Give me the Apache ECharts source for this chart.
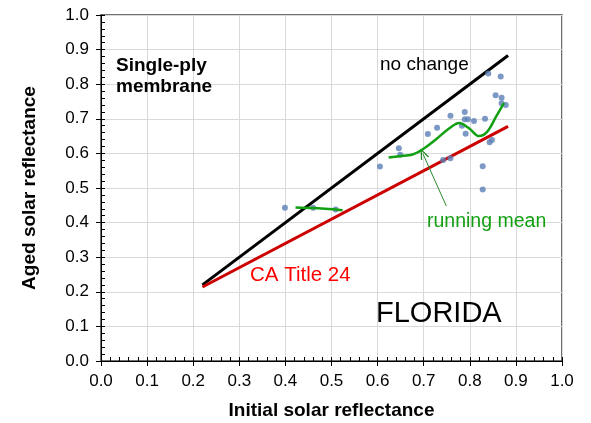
<!DOCTYPE html>
<html>
<head>
<meta charset="utf-8">
<script src="https://cdn.jsdelivr.net/npm/echarts@6/dist/echarts.min.js"></script>
<style>
html,body{margin:0;padding:0;background:#fff;}
#c{width:591px;height:423px;}
</style>
</head>
<body>
<div id="c"></div>
<script>
// ---- data ----
var tickLabels = ['0.0','0.1','0.2','0.3','0.4','0.5','0.6','0.7','0.8','0.9','1.0'];
var samples = [
  [0.399,0.443],[0.460,0.443],[0.509,0.438],[0.605,0.562],[0.646,0.615],[0.649,0.596],
  [0.709,0.656],[0.729,0.674],[0.742,0.581],[0.758,0.586],[0.758,0.709],[0.783,0.680],
  [0.789,0.720],[0.789,0.699],[0.796,0.699],[0.791,0.657],[0.809,0.694],[0.828,0.563],
  [0.828,0.496],[0.833,0.700],[0.840,0.831],[0.843,0.632],[0.848,0.639],[0.856,0.768],
  [0.867,0.822],[0.869,0.761],[0.869,0.745],[0.878,0.740]
];
var noChange = [[0.22,0.22],[0.883,0.883]];
var caTitle24 = [[0.22,0.214],[0.883,0.678]];
var meanLow = [[0.422,0.444],[0.46,0.442],[0.524,0.436]];
var meanHigh = [
  [0.624,0.588],[0.647,0.592],[0.676,0.597],[0.698,0.612],[0.727,0.641],[0.755,0.672],
  [0.777,0.688],[0.799,0.672],[0.820,0.650],[0.838,0.663],[0.857,0.706],[0.874,0.745]
];
var arrowLine = [[0.749,0.448],[0.698,0.600]];

var FONT = "'Liberation Sans', Arial, sans-serif";
var chart = echarts.init(document.getElementById('c'), null, {renderer:'canvas'});

function baseAxis(pos, name, gap) {
  return {
    type:'value', min:0, max:1, interval:0.1, position:pos,
    name:name, nameLocation:'middle', nameGap:gap,
    nameTextStyle:{fontFamily:FONT, fontSize:19, fontWeight:'bold', color:'#000'},
    axisLine:{show:true, onZero:false, lineStyle:{color:'#000', width:1}},
    axisTick:{show:true, inside:false, length:5, lineStyle:{color:'#000'}},
    minorTick:{show:false},
    axisLabel:{fontFamily:FONT, fontSize:17, color:'#000', margin:12,
      formatter:function(v){ return tickLabels[Math.round(v*10)]; }},
    splitLine:{show:true, lineStyle:{color:'#d9d9d9', width:1}}
  };
}
function minorAxis(pos) {
  return {
    type:'value', min:0, max:1, interval:0.1, position:pos,
    axisLine:{show:false}, axisLabel:{show:false}, splitLine:{show:false},
    axisTick:{show:true, inside:true, length:4, lineStyle:{color:'#000'}},
    minorTick:{show:true, splitNumber:5, length:4, lineStyle:{color:'#000'}}
  };
}

var option = {
  animation:false,
  backgroundColor:'#fff',
  grid:{left:101, top:15, right:29, bottom:62, containLabel:false, outerBoundsMode:'none',
    show:true, borderColor:'#404040', borderWidth:1.5, backgroundColor:'transparent'},
  xAxis:[baseAxis('bottom','Initial solar reflectance',40), minorAxis('bottom')],
  yAxis:[baseAxis('left','Aged solar reflectance',62), minorAxis('left')],
  series:[
    {type:'line', data:noChange, symbol:'none', lineStyle:{color:'#000', width:3}, z:3},
    {type:'line', data:caTitle24, symbol:'none', lineStyle:{color:'#cc0000', width:3}, z:3},
    {type:'scatter', data:samples, symbol:'circle', symbolSize:6,
      itemStyle:{color:'#5b7fb6'}, z:4},
    {type:'line', data:meanLow, symbol:'none', smooth:0.3, lineStyle:{color:'#12a012', width:2.5}, z:5},
    {type:'line', data:meanHigh, symbol:'none', smooth:0.35, lineStyle:{color:'#12a012', width:2.5}, z:5},
    {type:'line', data:[], symbol:'none', z:6,
      markLine:{silent:true, animation:false,
        symbol:['none','path://M5,0 L10,11 L8.4,11 L5,3.2 L1.6,11 L0,11 Z'], symbolSize:[9,11],
        lineStyle:{color:'#2a8a2a', width:1, type:'solid'}, label:{show:false},
        data:[[{coord:arrowLine[0]},{coord:arrowLine[1]}]]}}
  ]
};
chart.setOption(option);

var texts = [
  {t:'Single-ply', x:116, y:66, size:19, w:'bold', c:'#000'},
  {t:'membrane', x:116, y:86.5, size:19, w:'bold', c:'#000'},
  {t:'no change', x:380, y:65, size:19, w:'normal', c:'#000'},
  {t:'running mean', x:427, y:221.5, size:19.5, w:'normal', c:'#12a012'},
  {t:'CA Title 24', x:250, y:275.5, size:20.5, w:'normal', c:'#ff0000'},
  {t:'FLORIDA', x:376, y:313.6, size:29, w:'normal', c:'#000'}
];
chart.setOption({graphic: texts.map(function(o){
  return {type:'text', x:o.x, y:o.y, z:100, style:{text:o.t, fill:o.c,
    font: o.w+' '+o.size+'px '+FONT, textVerticalAlign:'middle', verticalAlign:'middle'}};
})});
</script>
</body>
</html>
